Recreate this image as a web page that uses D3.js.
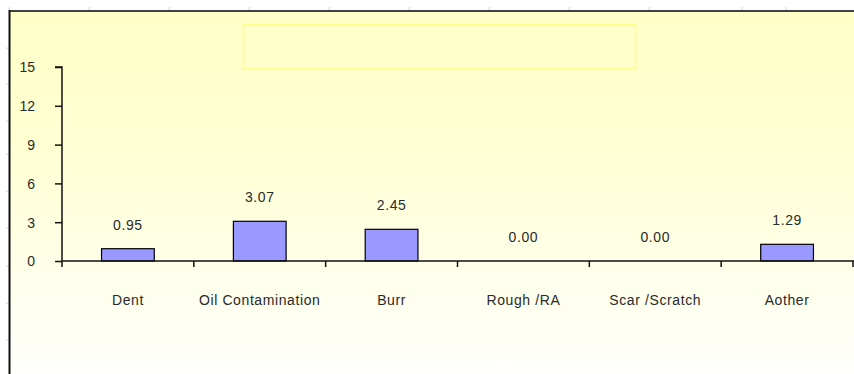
<!DOCTYPE html>
<html>
<head>
<meta charset="utf-8">
<script src="https://cdn.jsdelivr.net/npm/d3@7"></script>
<style>
  html, body { margin: 0; padding: 0; background: #ffffff; }
  svg { display: block; }
  text { font-family: Arial, "Liberation Sans", sans-serif; }
</style>
</head>
<body>
<svg id="chart" width="854" height="374"></svg>
<script>
// ---- data ----
const categories = ["Dent", "Oil Contamination", "Burr", "Rough /RA", "Scar /Scratch", "Aother"];
const values = [0.95, 3.07, 2.45, 0.00, 0.00, 1.29];
const yTicks = [0, 3, 6, 9, 12, 15];

// ---- layout ----
const W = 854, H = 374;
const plot = { left: 62, right: 853, top: 67, bottom: 261 };
const FS = 14;

const svg = d3.select("#chart");
const defs = svg.append("defs");
const grad = defs.append("linearGradient")
  .attr("id", "bg").attr("x1", 0).attr("y1", 0).attr("x2", 0).attr("y2", 1);
grad.append("stop").attr("offset", "0%").attr("stop-color", "#ffffc8");
grad.append("stop").attr("offset", "35%").attr("stop-color", "#ffffd2");
grad.append("stop").attr("offset", "100%").attr("stop-color", "#fffffd");

// chart area background
svg.append("rect").attr("x", 10).attr("y", 11).attr("width", W - 10).attr("height", H - 11)
  .attr("fill", "url(#bg)");

// faint ruler marks outside the chart border
const rulerTop = [9, 89, 169, 249, 329, 409, 489, 569, 649, 742, 786];
const rulerLeft = [48, 84, 121, 154, 191, 228, 266, 303, 340];
svg.append("g").selectAll("rect").data(rulerTop).join("rect")
  .attr("x", d => d - 0.5).attr("y", 7).attr("width", 1.5).attr("height", 4)
  .attr("fill", "#dde2ec");
svg.append("g").selectAll("rect").data(rulerLeft).join("rect")
  .attr("x", 6).attr("y", d => d - 0.5).attr("width", 3).attr("height", 1.5)
  .attr("fill", "#dde2ec");

// chart borders (top and left)
svg.append("line").attr("x1", 9).attr("x2", W).attr("y1", 11).attr("y2", 11)
  .attr("stroke", "#404040").attr("stroke-width", 2);
svg.append("line").attr("x1", 9.5).attr("x2", 9.5).attr("y1", 10).attr("y2", H)
  .attr("stroke", "#111").attr("stroke-width", 2);

// empty title box
svg.append("rect").attr("x", 243.5).attr("y", 24.5).attr("width", 392).attr("height", 44.5)
  .attr("fill", "none").attr("stroke", "#ffff88").attr("stroke-width", 1.5);

// ---- scales ----
const x = d3.scaleBand().domain(categories)
  .range([plot.left, plot.right]).paddingInner(0.6).paddingOuter(0.3);
const xEdges = d3.scaleLinear().domain([0, categories.length]).range([plot.left, plot.right]);
const y = d3.scaleLinear().domain([0, 15]).range([plot.bottom, plot.top]);

// ---- bars ----
svg.append("g").selectAll("rect").data(values).join("rect")
  .attr("x", (d, i) => x(categories[i]))
  .attr("y", d => y(d))
  .attr("width", x.bandwidth())
  .attr("height", d => y(0) - y(d))
  .attr("fill", "#9999ff")
  .attr("stroke", "#000").attr("stroke-width", 1.2);

// value labels
svg.append("g").selectAll("text").data(values).join("text")
  .attr("x", (d, i) => x(categories[i]) + x.bandwidth() / 2)
  .attr("y", d => y(d) - 19)
  .attr("text-anchor", "middle")
  .attr("font-size", FS).attr("letter-spacing", 0.6)
  .attr("fill", "#2a2a2a")
  .text(d => d.toFixed(2));

// ---- y axis ----
const yAxis = d3.axisLeft(y).tickValues(yTicks).tickSize(7).tickPadding(20).tickFormat(d3.format("d"));
const gy = svg.append("g").attr("transform", `translate(${plot.left},0)`).call(yAxis);
gy.select(".domain").attr("stroke", "#111").attr("stroke-width", 1.5)
  .attr("d", `M-7,${plot.top}H0V${plot.bottom}`);
gy.selectAll(".tick line").attr("stroke", "#111").attr("stroke-width", 1.5);
gy.selectAll(".tick text").attr("font-size", FS).attr("fill", "#2a2a2a")
  .attr("font-family", "Arial, 'Liberation Sans', sans-serif").attr("dy", "0.35em");

// ---- x axis ----
const xAxisG = svg.append("g").attr("transform", `translate(0,${plot.bottom})`);
xAxisG.append("line").attr("x1", plot.left).attr("x2", plot.right + 1)
  .attr("stroke", "#111").attr("stroke-width", 1.5);
xAxisG.selectAll("line.tk").data(d3.range(categories.length + 1)).join("line")
  .attr("class", "tk")
  .attr("x1", d => xEdges(d)).attr("x2", d => xEdges(d))
  .attr("y1", 0).attr("y2", 6)
  .attr("stroke", "#111").attr("stroke-width", 1.5);
xAxisG.selectAll("text").data(categories).join("text")
  .attr("x", d => x(d) + x.bandwidth() / 2)
  .attr("y", 44)
  .attr("text-anchor", "middle")
  .attr("font-size", FS).attr("letter-spacing", 0.6)
  .attr("fill", "#2a2a2a")
  .text(d => d);
</script>
</body>
</html>
